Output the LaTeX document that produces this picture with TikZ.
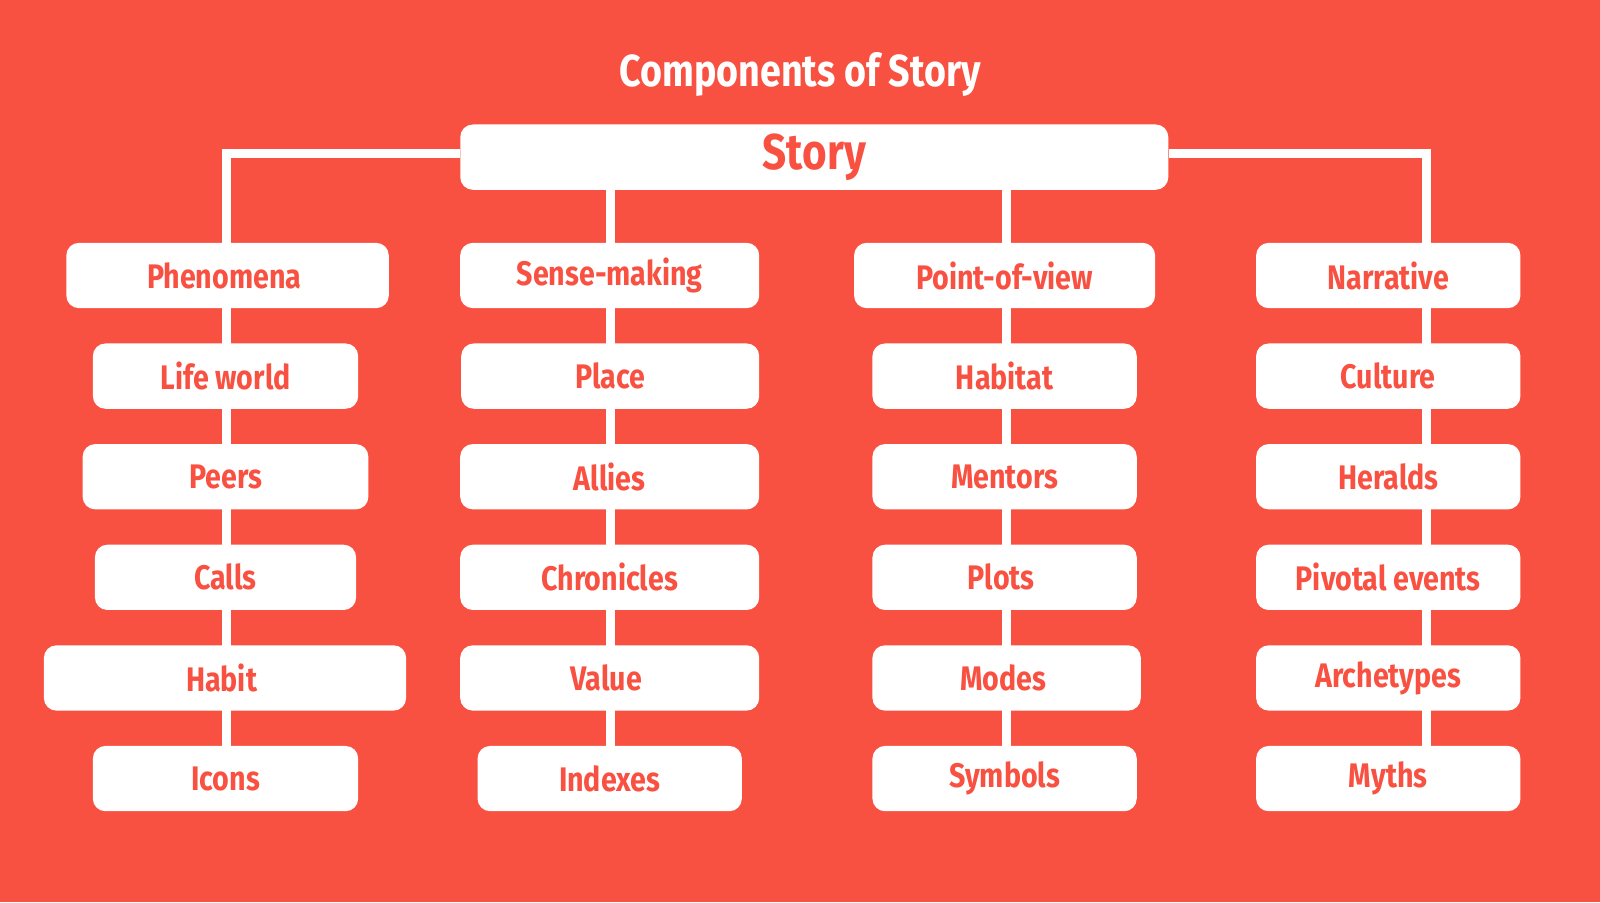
\documentclass[tikz,border=0pt]{standalone}
\usepackage{fontspec}
\setmainfont{Fira Sans}
\usetikzlibrary{positioning,calc}
\definecolor{StoryRed}{HTML}{F95141}
\newcommand{\narrow}[1]{\scalebox{0.84}[1]{#1}}
\tikzset{
    x=0.02cm, y=-0.02cm,
    item/.style = {fill=white, rounded corners=7pt, text=StoryRed,
        minimum height=1.28cm, inner sep=0pt,
        font=\fontsize{19}{19}\selectfont\bfseries},
    link/.style = {draw=white, line width=5pt}
}
\begin{document}
\begin{tikzpicture}
    % background
    \fill[StoryRed] (0,0) rectangle (1568,884);
    \node[text=white, font=\fontsize{25}{25}\selectfont\bfseries] (title) at (784,73) {\narrow{Components of Story}};
    \node[item, minimum width=13.88cm, font=\fontsize{28}{28}\selectfont\bfseries] (story) at (798,154) {\narrow{Story}};
    % column line positions
    \coordinate (x1) at (222,0);
    \coordinate (x2) at (598,0);
    \coordinate (x3) at (986,0);
    \coordinate (x4) at (1398,0);
    % connectors first, boxes on top
    \draw[link] ([yshift=0.08cm]story.west) -| (x1 |- 0,270);
    \draw[link] ([yshift=0.08cm]story.east) -| (x4 |- 0,270);
    \draw[link] (story.south -| x2) -- (x2 |- 0,270);
    \draw[link] (story.south -| x3) -- (x3 |- 0,270);
    \foreach \c in {1,...,4} {
        \draw[link] (x\c |- 0,270) -- (x\c |- 0,763);
    }
    % boxes: column / row / left / right / text
    \foreach \c/\r/\l/\rr/\t in {
        1/1/65/381/Phenomena / data, 1/2/91/351/Life world, 1/3/81/361/Peers,
        1/4/93/349/Calls, 1/5/43/398/Habit / experience, 1/6/91/351/Icons,
        2/1/451/744/Sense-making, 2/2/452/744/Place, 2/3/451/744/Allies,
        2/4/451/744/Chronicles, 2/5/451/744/Value / identity, 2/6/468/727/Indexes,
        3/1/837/1132/Point-of-view, 3/2/855/1114/Habitat, 3/3/855/1114/Mentors,
        3/4/855/1114/Plots / maps, 3/5/855/1118/Modes / motifs, 3/6/855/1114/Symbols,
        4/1/1231/1490/Narrative, 4/2/1231/1490/Culture, 4/3/1231/1490/Heralds,
        4/4/1231/1490/Pivotal events, 4/5/1231/1490/Archetypes, 4/6/1231/1490/Myths} {
        \pgfmathsetmacro{\cx}{(\l+\rr)/2}
        \pgfmathsetmacro{\cy}{270+(\r-1)*98.6}
        \pgfmathsetmacro{\bw}{(\rr-\l)*0.02}
        \node[item, minimum width=\bw cm] (c\c r\r) at (\cx,\cy) {\narrow{\t}};
    }
\end{tikzpicture}
\end{document}
